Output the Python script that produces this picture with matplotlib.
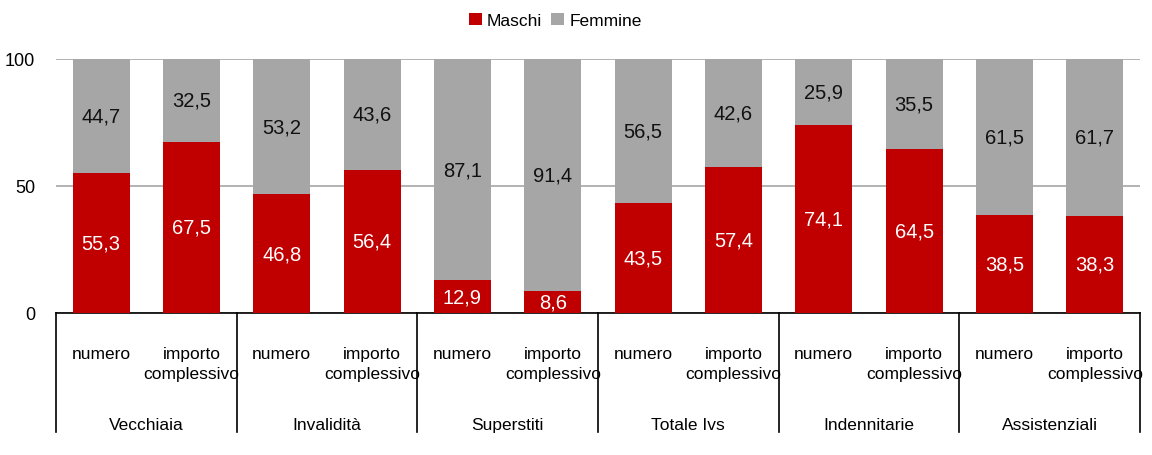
import numpy as np
import matplotlib.pyplot as plt
import matplotlib.transforms as mtransforms

plt.rcParams['font.family'] = ['Liberation Sans', 'DejaVu Sans']

# Data
groups = ['Vecchiaia', 'Invalidità', 'Superstiti', 'Totale Ivs', 'Indennitarie', 'Assistenziali']
sub_labels = ['numero', 'importo\ncomplessivo']
maschi = [55.3, 67.5, 46.8, 56.4, 12.9, 8.6, 43.5, 57.4, 74.1, 64.5, 38.5, 38.3]
femmine = [44.7, 32.5, 53.2, 43.6, 87.1, 91.4, 56.5, 42.6, 25.9, 35.5, 61.5, 61.7]

red = '#C00000'
gray = '#A6A6A6'

fig = plt.figure(figsize=(11.52, 4.56), dpi=100)
ax = fig.add_axes([56 / 1152, 142 / 456, 1084 / 1152, 254 / 456])

x = np.arange(len(maschi))
width = 0.63
b1 = ax.bar(x, maschi, width, color=red, label='Maschi', zorder=3)
b2 = ax.bar(x, femmine, width, bottom=maschi, color=gray, label='Femmine', zorder=3)

for xi, m, f in zip(x, maschi, femmine):
    ax.text(xi, m / 2, f'{m:.1f}'.replace('.', ','), ha='center', va='center',
            color='white', fontsize=14.5, zorder=4)
    ax.text(xi, m + f / 2, f'{f:.1f}'.replace('.', ','), ha='center', va='center',
            color='#111111', fontsize=14.5, zorder=4)

ax.set_xlim(-0.5, len(maschi) - 0.5)
ax.set_ylim(0, 100)
ax.set_yticks([0, 50, 100])
ax.tick_params(axis='y', length=0, labelsize=13, pad=15)
ax.set_xticks([])
ax.yaxis.grid(True, color='#A6A6A6', linewidth=1.2, zorder=0)
for s in ['left', 'right', 'top']:
    ax.spines[s].set_visible(False)
ax.spines['bottom'].set_color('black')
ax.spines['bottom'].set_linewidth(1.2)

# Two-level category axis
trans = mtransforms.blended_transform_factory(ax.transData, ax.transAxes)
for k in range(len(groups) + 1):
    xs = 2 * k - 0.5
    ax.plot([xs, xs], [0, -0.47], color='black', lw=1.2, transform=trans, clip_on=False)
for i, xi in enumerate(x):
    ax.text(xi, -0.13, sub_labels[i % 2], ha='center', va='top', fontsize=12.5,
            linespacing=1.45, transform=trans)
for g, name in enumerate(groups):
    ax.text(2 * g + 0.5, -0.44, name, ha='center', va='center', fontsize=12.5,
            transform=trans)

fig.legend(handles=[b1, b2], labels=['Maschi', 'Femmine'], loc='center',
           bbox_to_anchor=(0.482, 0.953), ncol=2, frameon=False, fontsize=12.5,
           handlelength=0.75, handleheight=0.75, handletextpad=0.3, columnspacing=0.5)

fig.savefig('out.png', dpi=100)
